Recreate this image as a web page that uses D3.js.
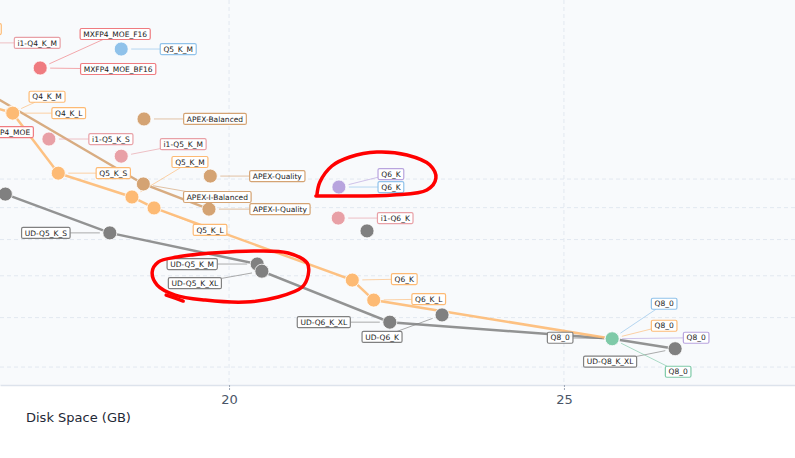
<!DOCTYPE html>
<html>
<head>
<meta charset="utf-8">
<script src="https://cdn.jsdelivr.net/npm/d3@7"></script>
<style>
  html, body { margin: 0; padding: 0; background: #fff; }
  svg { display: block; font-family: "DejaVu Sans", sans-serif; }
</style>
</head>
<body>
<svg id="chart"></svg>
<script>
// axis ticks / grid values
const xTicks = [20, 25];
const yGrid = [0.05, 0.06, 0.07, 0.08, 0.09, 0.10];

// orange quants (connected)
const stdNames = ["Q4_K_S", "Q4_K_M", "Q4_K_L", "Q5_K_S", "Q5_K_M", "Q5_K_L", "Q6_K", "Q6_K_L", "Q8_0"];
const stdSize  = [15.91, 16.76, 16.77, 17.45, 18.55, 18.88, 21.84, 22.16, 25.72];
const stdKld   = [0.1358, 0.1277, 0.1275, 0.1022, 0.0936, 0.0899, 0.0689, 0.0640, 0.0555];

// gray UD quants
const udNames = ["UD-Q4_K_XL", "UD-Q5_K_S", "UD-Q5_K_M", "UD-Q5_K_XL", "Q6_K", "UD-Q6_K_XL", "UD-Q6_K", "Q8_0", "UD-Q8_K_XL"];
const udSize  = [16.66, 18.22, 20.42, 20.49, 22.06, 22.40, 23.18, 25.72, 26.66];
const udKld   = [0.0946, 0.0820, 0.0731, 0.0712, 0.0826, 0.0590, 0.0606, 0.0555, 0.0535];

// APEX
const apexNames = ["APEX-I-Compact", "APEX-Balanced", "APEX-Quality", "APEX-I-Balanced", "APEX-I-Quality"];
const apexSize  = [15.84, 18.73, 19.72, 18.72, 19.70];
const apexKld   = [0.1489, 0.1248, 0.1011, 0.0982, 0.0895];

// i1 imatrix
const i1Names = ["i1-Q4_K_M", "i1-Q5_K_S", "i1-Q5_K_M", "i1-Q6_K"];
const i1Size  = [16.21, 17.31, 18.39, 21.63];
const i1Kld   = [0.1652, 0.1159, 0.1088, 0.0866];

// MXFP4
const mxNames = ["MXFP4_MOE", "MXFP4_MOE_F16", "MXFP4_MOE_BF16"];
const mxSize  = [15.91, 17.18, 17.18];
const mxKld   = [0.1189, 0.1506, 0.1506];

const blueNames = ["Q5_K_M", "Q6_K", "Q8_0"];
const blueSize  = [18.39, 21.64, 25.72];
const blueKld   = [0.1615, 0.0971, 0.0555];

const purpleNames = ["Q6_K", "Q8_0"];
const purpleSize  = [21.64, 25.72];
const purpleKld   = [0.0971, 0.0555];

const greenNames = ["Q8_0"];
const greenSize  = [25.72];
const greenKld   = [0.0555];

// which points get joined by a line
const lineOrder = {
  ud: ["UD-Q4_K_XL", "UD-Q5_K_S", "UD-Q5_K_M", "UD-Q5_K_XL", "UD-Q6_K_XL", "Q8_0", "UD-Q8_K_XL"],
  std: stdNames,
  apex: ["APEX-I-Compact", "APEX-I-Balanced", "APEX-I-Quality"]
};

// ---- layout / style ----
const W = 795, H = 458, plotBottom = 385, R = 7;

const colors = {
  ud: "#808080", std: "#fdba74", apex: "#d4a373", i1: "#e8a0a6",
  mx: "#ef7b80", blue: "#90c2ea", purple: "#b8a4de", green: "#7fcaa8"
};

// label centre offset from its point (px); points without an entry get no label
const labelOffset = {
  "std:Q4_K_S": [29, -67], "std:Q4_K_M": [35, -16], "std:Q4_K_L": [56, 0],
  "std:Q5_K_S": [55, 0], "std:Q5_K_M": [58, -35], "std:Q5_K_L": [56, 22],
  "std:Q6_K": [52, -1], "std:Q6_K_L": [55, -1], "std:Q8_0": [52, -13],
  "ud:UD-Q5_K_S": [-64, 0], "ud:UD-Q5_K_M": [-65, 0],
  "ud:UD-Q5_K_XL": [-67, 12], "ud:UD-Q6_K_XL": [-66, 0], "ud:UD-Q6_K": [-60, 22],
  "ud:Q8_0": [-52, -1], "ud:UD-Q8_K_XL": [-65, 13],
  "apex:APEX-Balanced": [71, 0], "apex:APEX-Quality": [67, 0],
  "apex:APEX-I-Balanced": [74, 13], "apex:APEX-I-Quality": [71, 0],
  "i1:i1-Q4_K_M": [62, 0], "i1:i1-Q5_K_S": [62, 0], "i1:i1-Q5_K_M": [62, -12], "i1:i1-Q6_K": [57, 0],
  "mx:MXFP4_MOE": [52, 0], "mx:MXFP4_MOE_F16": [75, -34], "mx:MXFP4_MOE_BF16": [78, 1],
  "blue:Q5_K_M": [57, 0], "blue:Q6_K": [52, 0], "blue:Q8_0": [52, -35],
  "purple:Q6_K": [52, -13], "purple:Q8_0": [84, -1],
  "green:Q8_0": [66, 33]
};

const svg = d3.select("#chart").attr("width", W).attr("height", H);

const x = d3.scaleLinear().domain([16.58, 28.45]).range([0, W]);
const y = d3.scaleLog().domain([0.0468, 0.1935]).range([plotBottom, 0]);

svg.append("rect").attr("width", W).attr("height", plotBottom).attr("fill", "#f8fafc");

// grid
svg.append("g").selectAll("line").data(yGrid).join("line")
  .attr("x1", 0).attr("x2", W)
  .attr("y1", d => y(d)).attr("y2", d => y(d))
  .attr("stroke", "#e2e8f0").attr("stroke-dasharray", "4,3");
svg.append("g").selectAll("line").data(xTicks).join("line")
  .attr("x1", d => x(d)).attr("x2", d => x(d))
  .attr("y1", 0).attr("y2", plotBottom)
  .attr("stroke", "#e2e8f0").attr("stroke-dasharray", "4,3");

// x axis
const xAxis = svg.append("g")
  .attr("transform", `translate(0,${plotBottom})`)
  .call(d3.axisBottom(x).tickValues(xTicks).tickSize(5).tickSizeOuter(0).tickPadding(5).tickFormat(d3.format("d")));
xAxis.select(".domain").attr("stroke", "#dde3ec").attr("stroke-width", 1.5);
xAxis.selectAll(".tick line").attr("stroke", "#9aa5b5").attr("stroke-dasharray", "2,1");
xAxis.selectAll(".tick text")
  .attr("fill", "#4a5568").attr("font-size", 13).attr("font-family", "DejaVu Sans");

svg.append("text")
  .attr("x", 26).attr("y", 422)
  .attr("font-size", 13).attr("fill", "#1f2937")
  .text("Disk Space (GB)");

// points
const series = [
  { key: "ud", names: udNames, size: udSize, kld: udKld },
  { key: "std", names: stdNames, size: stdSize, kld: stdKld },
  { key: "apex", names: apexNames, size: apexSize, kld: apexKld },
  { key: "i1", names: i1Names, size: i1Size, kld: i1Kld },
  { key: "mx", names: mxNames, size: mxSize, kld: mxKld },
  { key: "blue", names: blueNames, size: blueSize, kld: blueKld },
  { key: "purple", names: purpleNames, size: purpleSize, kld: purpleKld },
  { key: "green", names: greenNames, size: greenSize, kld: greenKld }
];
const points = series.flatMap(s => s.names.map((n, i) => ({
  key: s.key, name: n, size: s.size[i], kld: s.kld[i]
})));
const find = (key, name) => points.find(p => p.key === key && p.name === name);

// lines
const line = d3.line().x(d => x(d.size)).y(d => y(d.kld));
Object.keys(lineOrder).forEach(key => {
  svg.append("path")
    .datum(lineOrder[key].map(n => find(key, n)))
    .attr("d", line)
    .attr("fill", "none")
    .attr("stroke", colors[key])
    .attr("stroke-width", 2.5)
    .attr("stroke-opacity", key === "ud" ? 0.85 : 0.9);
});

// label geometry
const labels = svg.append("g");
const labelData = points.filter(p => labelOffset[p.key + ":" + p.name]).map(p => {
  const off = labelOffset[p.key + ":" + p.name];
  const px = x(p.size), py = y(p.kld);
  return { p, px, py, cx: px + off[0], cy: py + off[1] };
});

// measure text
const meas = svg.append("text").attr("font-size", 7.5);
labelData.forEach(d => {
  meas.text(d.p.name);
  d.w = meas.node().getComputedTextLength() + 6.4;
  d.h = 11;
});
meas.remove();

// leaders (under the points)
const leaders = svg.append("g");
labelData.forEach(d => {
  const dx = d.cx - d.px, dy = d.cy - d.py;
  const dist = Math.hypot(dx, dy);
  const sx = Math.abs(dx) > 0 ? 1 - (d.w / 2) / Math.abs(dx) : -Infinity;
  const sy = Math.abs(dy) > 0 ? 1 - (d.h / 2) / Math.abs(dy) : -Infinity;
  const s1 = Math.max(sx, sy);
  const s0 = (R + 3) / dist;
  if (s1 <= s0) return;
  leaders.append("line")
    .attr("x1", d.px + dx * s0).attr("y1", d.py + dy * s0)
    .attr("x2", d.px + dx * s1).attr("y2", d.py + dy * s1)
    .attr("stroke", colors[d.p.key]).attr("stroke-width", 1)
    .attr("stroke-opacity", 0.65);
});

svg.append("g").selectAll("circle").data(points).join("circle")
  .attr("cx", d => x(d.size)).attr("cy", d => y(d.kld))
  .attr("r", R)
  .attr("fill", d => colors[d.key])
  .attr("stroke", "#fff").attr("stroke-width", 0.8);

const lab = labels.raise().selectAll("g").data(labelData).join("g")
  .attr("transform", d => `translate(${d.cx},${d.cy})`);
lab.append("rect")
  .attr("x", d => -d.w / 2).attr("y", d => -d.h / 2)
  .attr("width", d => d.w).attr("height", d => d.h)
  .attr("rx", 1.5)
  .attr("fill", "#fff").attr("fill-opacity", 0.92)
  .attr("stroke", d => colors[d.p.key]).attr("stroke-width", 1.2);
lab.append("text")
  .attr("text-anchor", "middle").attr("y", 2.7)
  .attr("font-size", 7.5).attr("fill", "#1a1a1a")
  .text(d => d.p.name);

// hand-drawn red highlight rings, shaped around two points
const ringA = [[-22,8],[-19,-5],[-7,-21],[11,-30],[38,-35],[68,-32],[91,-22],[97,-9],[88,3],[54,8],[4,9],[-23,9]];
const ringB = [[-65,-9],[-45,-11],[-2,-13],[31,-11],[50,-1],[51,11],[45,23],[21,33],[-12,38],[-52,36],[-82,31],[-100,21],[-105,8],[-99,-2],[-80,-7],[-57,-10]];
const ringBTail = [[-91,31],[-82,34],[-74,37]];
const rings = [
  { at: find("purple", "Q6_K"), pts: ringA },
  { at: find("ud", "UD-Q5_K_M"), pts: ringB },
  { at: find("ud", "UD-Q5_K_M"), pts: ringBTail }
];
const ringLine = d3.line().curve(d3.curveCatmullRom.alpha(0.5));
rings.forEach(r => {
  const ax = x(r.at.size), ay = y(r.at.kld);
  svg.append("path")
    .attr("d", ringLine(r.pts.map(o => [ax + o[0], ay + o[1]])))
    .attr("fill", "none")
    .attr("stroke", "#ff0000")
    .attr("stroke-width", 3.5)
    .attr("stroke-linecap", "round")
    .attr("stroke-linejoin", "round");
});
</script>
</body>
</html>
